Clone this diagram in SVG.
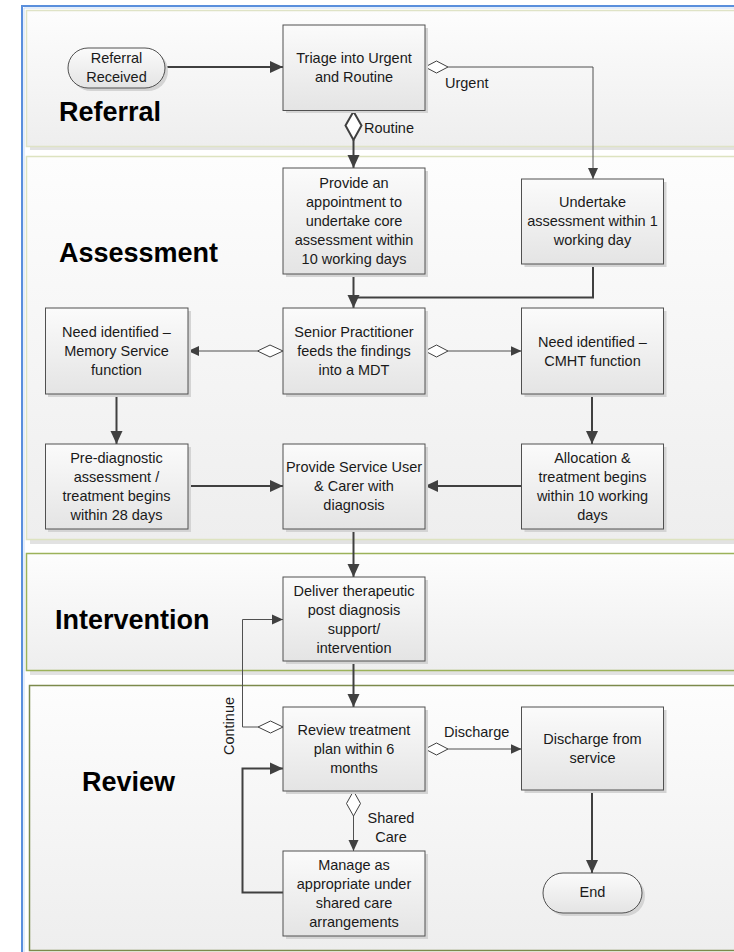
<svg xmlns="http://www.w3.org/2000/svg" width="734" height="952" viewBox="0 0 734 952">
<defs>
<linearGradient id="laneFill" x1="0" y1="0" x2="0" y2="1">
<stop offset="0" stop-color="#fdfdfd"/>
<stop offset="1" stop-color="#eeeeee"/>
</linearGradient>
<linearGradient id="boxFill" x1="0" y1="0" x2="0" y2="1">
<stop offset="0" stop-color="#fbfbfb"/>
<stop offset="1" stop-color="#e4e4e4"/>
</linearGradient>
<marker id="arrowThick" markerUnits="userSpaceOnUse" markerWidth="14" markerHeight="14" viewBox="0 0 14 14" refX="13" refY="7" orient="auto">
<path d="M0,1 L13,7 L0,13 Z" fill="#404040"/>
</marker>
<marker id="arrowThin" markerUnits="userSpaceOnUse" markerWidth="12" markerHeight="12" viewBox="0 0 12 12" refX="11" refY="6" orient="auto">
<path d="M0,1 L11,6 L0,11 Z" fill="#404040"/>
</marker>
</defs>
<style>
.lane{fill:url(#laneFill);}
.laneShadow{fill:#e2e2e2;}
.box{fill:url(#boxFill);stroke:#505050;stroke-width:1;}
.shadow{fill:#d4d4d4;}
.txt{font-family:"Liberation Sans",Arial,sans-serif;font-size:14.5px;fill:#1a1a1a;text-anchor:middle;}
.lbl{font-family:"Liberation Sans",Arial,sans-serif;font-size:14.5px;fill:#1a1a1a;}
.title{font-family:"Liberation Sans",Arial,sans-serif;font-size:27px;font-weight:bold;fill:#000;}
.thick{fill:none;stroke:#404040;stroke-width:2;marker-end:url(#arrowThick);}
.thin{fill:none;stroke:#505050;stroke-width:1;marker-end:url(#arrowThin);}
.dia{fill:#ffffff;stroke:#404040;stroke-width:1;}
.diaThick{fill:#ffffff;stroke:#404040;stroke-width:2;}
</style>
<rect x="0" y="0" width="734" height="952" fill="#ffffff"/>

<g id="lanes">
<rect class="laneShadow" x="30" y="146" width="710" height="4"/>
<rect class="lane" x="26.5" y="10.5" width="712" height="136" stroke="#dfe3c6" stroke-width="1.5"/>
<rect class="laneShadow" x="30" y="540" width="710" height="4"/>
<rect class="lane" x="26.5" y="156.5" width="712" height="383" stroke="#dde3c0" stroke-width="1.5"/>
<rect class="laneShadow" x="30" y="671" width="710" height="4"/>
<rect class="lane" x="26.5" y="553.5" width="712" height="117" stroke="#9cb25a" stroke-width="1.5"/>
<rect class="lane" x="29.5" y="685.5" width="712" height="265" stroke="#7c8a4c" stroke-width="1.5"/>
<text class="title" x="59" y="121">Referral</text>
<text class="title" x="59" y="262">Assessment</text>
<text class="title" x="55" y="629">Intervention</text>
<text class="title" x="82" y="791">Review</text>
</g>

<g id="frame">
<path d="M22,952 L22,6 L734,6" fill="none" stroke="#5a8fdc" stroke-width="2"/>
<path d="M24,952 L24,8 L734,8" fill="none" stroke="#c9dcf5" stroke-width="1"/>
</g>

<g id="connectors">
<path class="thick" d="M165,67 L283,67"/>
<path class="thin" d="M448,67 L593,67 L593,179"/>
<path class="thick" d="M353.5,140 L353.5,168"/>
<path class="thick" d="M353.5,274 L353.5,308"/>
<path d="M593,264 L593,297.5 L353.5,297.5" fill="none" stroke="#404040" stroke-width="2"/>
<path class="thin" d="M257.5,351 L188,351"/>
<path class="thin" d="M448,351 L521.5,351"/>
<path class="thick" d="M116.5,394 L116.5,444"/>
<path class="thick" d="M592,394 L592,444"/>
<path class="thick" d="M188,486 L283,486"/>
<path class="thick" d="M521.5,486 L425,486"/>
<path class="thick" d="M353.5,529 L353.5,577"/>
<path class="thick" d="M353.5,661 L353.5,707"/>
<path class="thin" d="M258,727 L242.5,727 L242.5,619.5 L283,619.5"/>
<path class="thin" d="M448,749 L521.5,749"/>
<path class="thin" d="M353.5,816 L353.5,851"/>
<path class="thick" d="M283,892.5 L242.5,892.5 L242.5,768.5 L283,768.5" stroke-width="2.5"/>
<path class="thick" d="M592,790 L592,873"/>
<path class="diaThick" d="M353.5,111.5 L361.5,125.5 L353.5,140 L345.5,125.5 Z"/>
<path class="dia" d="M425,67 L436.5,61 L448,67 L436.5,73 Z"/>
<path class="dia" d="M283,351 L270,345 L257.5,351 L270,357 Z"/>
<path class="dia" d="M425,351 L436.5,345 L448,351 L436.5,357 Z"/>
<path class="dia" d="M283,727 L270.5,721 L258,727 L270.5,733 Z"/>
<path class="dia" d="M425,749 L436.5,743 L448,749 L436.5,755 Z"/>
<path class="dia" d="M353.5,791 L360.5,803.5 L353.5,816 L346.5,803.5 Z"/>
<text class="lbl" x="445" y="88">Urgent</text>
<text class="lbl" x="364" y="133">Routine</text>
<text class="lbl" x="444" y="737">Discharge</text>
<text class="txt" x="391" y="823">Shared</text>
<text class="txt" x="391" y="842">Care</text>
<text class="txt" transform="translate(234,726) rotate(-90)">Continue</text>
</g>

<g id="n-referral-received">
<rect class="shadow" x="71" y="51" width="97" height="40" rx="20"/>
<rect x="68" y="48" width="97" height="40" rx="20" fill="url(#boxFill)" stroke="#505050" stroke-width="1"/>
<text class="txt" x="116.5" y="63">Referral</text>
<text class="txt" x="116.5" y="82">Received</text>
</g>

<g id="n-triage">
<rect class="shadow" x="286" y="28" width="142" height="85"/>
<rect class="box" x="283" y="25" width="142" height="85.5"/>
<text class="txt" x="354" y="63">Triage into Urgent</text>
<text class="txt" x="354" y="82">and Routine</text>
</g>

<g id="n-provide-appointment">
<rect class="shadow" x="286" y="171" width="142" height="106"/>
<rect class="box" x="283" y="168" width="142" height="106"/>
<text class="txt" x="354" y="188">Provide an</text>
<text class="txt" x="354" y="207">appointment to</text>
<text class="txt" x="354" y="226">undertake core</text>
<text class="txt" x="354" y="245">assessment within</text>
<text class="txt" x="354" y="264">10 working days</text>
</g>

<g id="n-undertake">
<rect class="shadow" x="524.5" y="182" width="142" height="85"/>
<rect class="box" x="521.5" y="179" width="142" height="85"/>
<text class="txt" x="592.5" y="207">Undertake</text>
<text class="txt" x="592.5" y="226">assessment within 1</text>
<text class="txt" x="592.5" y="245">working day</text>
</g>

<g id="n-senior">
<rect class="shadow" x="286" y="311" width="142" height="86"/>
<rect class="box" x="283" y="308" width="142" height="86"/>
<text class="txt" x="354" y="337">Senior Practitioner</text>
<text class="txt" x="354" y="356">feeds the findings</text>
<text class="txt" x="354" y="375">into a MDT</text>
</g>

<g id="n-memory">
<rect class="shadow" x="48" y="311" width="143" height="86"/>
<rect class="box" x="45.5" y="308" width="142.5" height="86"/>
<text class="txt" x="116.5" y="337">Need identified –</text>
<text class="txt" x="116.5" y="356">Memory Service</text>
<text class="txt" x="116.5" y="375">function</text>
</g>

<g id="n-cmht">
<rect class="shadow" x="524.5" y="311" width="142" height="86"/>
<rect class="box" x="521.5" y="308" width="142" height="86"/>
<text class="txt" x="592.5" y="347">Need identified –</text>
<text class="txt" x="592.5" y="366">CMHT function</text>
</g>

<g id="n-prediagnostic">
<rect class="shadow" x="48" y="447" width="143" height="85"/>
<rect class="box" x="45.5" y="444" width="142.5" height="85"/>
<text class="txt" x="116.5" y="463">Pre-diagnostic</text>
<text class="txt" x="116.5" y="482">assessment /</text>
<text class="txt" x="116.5" y="501">treatment begins</text>
<text class="txt" x="116.5" y="520">within 28 days</text>
</g>

<g id="n-diagnosis">
<rect class="shadow" x="286" y="447" width="142" height="85"/>
<rect class="box" x="283" y="444" width="142" height="85"/>
<text class="txt" x="354" y="472">Provide Service User</text>
<text class="txt" x="354" y="491">&amp; Carer with</text>
<text class="txt" x="354" y="510">diagnosis</text>
</g>

<g id="n-allocation">
<rect class="shadow" x="524.5" y="447" width="142" height="85"/>
<rect class="box" x="521.5" y="444" width="142" height="85"/>
<text class="txt" x="592.5" y="463">Allocation &amp;</text>
<text class="txt" x="592.5" y="482">treatment begins</text>
<text class="txt" x="592.5" y="501">within 10 working</text>
<text class="txt" x="592.5" y="520">days</text>
</g>

<g id="n-deliver">
<rect class="shadow" x="286" y="580" width="142" height="84"/>
<rect class="box" x="283" y="577" width="142" height="84"/>
<text class="txt" x="354" y="595.5">Deliver therapeutic</text>
<text class="txt" x="354" y="614.5">post diagnosis</text>
<text class="txt" x="354" y="633.5">support/</text>
<text class="txt" x="354" y="652.5">intervention</text>
</g>

<g id="n-review">
<rect class="shadow" x="286" y="710" width="142" height="84"/>
<rect class="box" x="283" y="707" width="142" height="84"/>
<text class="txt" x="354" y="735">Review treatment</text>
<text class="txt" x="354" y="754">plan within 6</text>
<text class="txt" x="354" y="773">months</text>
</g>

<g id="n-discharge">
<rect class="shadow" x="524.5" y="710" width="142" height="83"/>
<rect class="box" x="521.5" y="707" width="142" height="83"/>
<text class="txt" x="592.5" y="744">Discharge from</text>
<text class="txt" x="592.5" y="763">service</text>
</g>

<g id="n-manage">
<rect class="shadow" x="286" y="854" width="142" height="85"/>
<rect class="box" x="283" y="851" width="142" height="85"/>
<text class="txt" x="354" y="869.5">Manage as</text>
<text class="txt" x="354" y="888.5">appropriate under</text>
<text class="txt" x="354" y="907.5">shared care</text>
<text class="txt" x="354" y="926.5">arrangements</text>
</g>

<g id="n-end">
<rect class="shadow" x="546" y="876" width="99" height="40" rx="20"/>
<rect x="543" y="873" width="99" height="40" rx="20" fill="url(#boxFill)" stroke="#505050" stroke-width="1"/>
<text class="txt" x="592.5" y="897">End</text>
</g>
</svg>
